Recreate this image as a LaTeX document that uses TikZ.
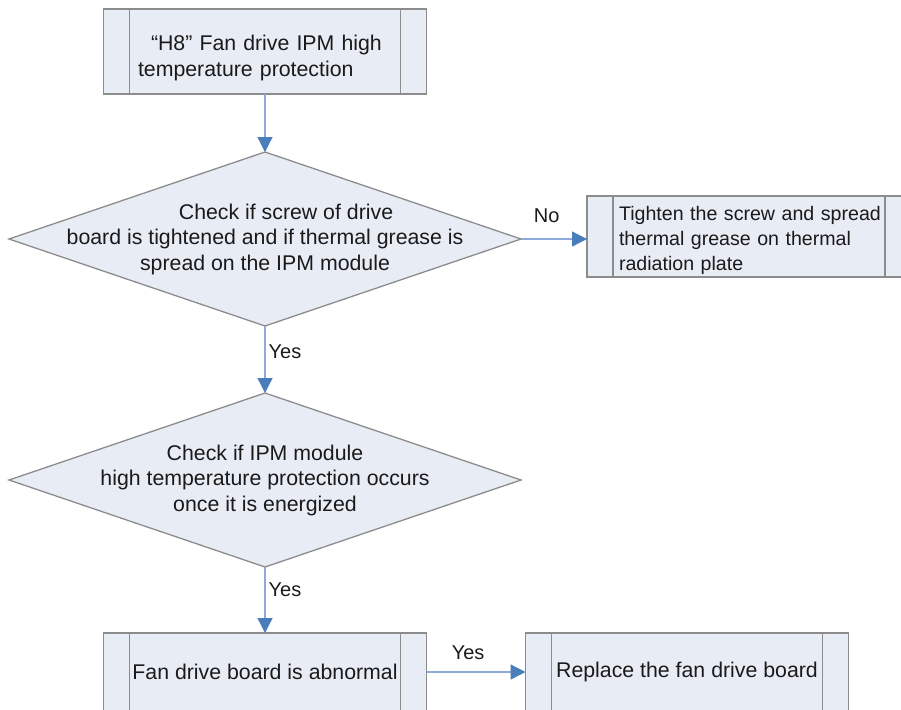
\documentclass[tikz,border=0pt]{standalone}
\usepackage{fontspec}
\setmainfont{Liberation Sans}
\usetikzlibrary{arrows.meta,positioning,shapes.geometric}
\definecolor{boxfill}{HTML}{E8ECF5}
\definecolor{boxgray}{HTML}{8C8C8C}
\definecolor{lineblue}{HTML}{8EAADB}
\definecolor{tipblue}{HTML}{4A7EBB}
\definecolor{txtgray}{HTML}{1A1A1A}

\begin{document}
\begin{tikzpicture}[font=\fontsize{21.3}{25.5}\selectfont, text=txtgray,
proc/.style={draw=boxgray, fill=boxfill, line width=1.3pt, inner sep=0pt, outer sep=0pt, minimum width=323pt,
  path picture={\draw[boxgray, line width=1.3pt]
    ([xshift=26pt]path picture bounding box.north west) -- ([xshift=26pt]path picture bounding box.south west)
    ([xshift=-26pt]path picture bounding box.north east) -- ([xshift=-26pt]path picture bounding box.south east);}},
decision/.style={diamond, draw=boxgray, fill=boxfill, line width=1.3pt, inner sep=0pt, outer sep=0pt, minimum width=512pt, minimum height=174pt},
arrow/.style={-{Triangle[length=15pt, width=15pt, color=tipblue]}, draw=lineblue, line width=1.3pt},
lbl/.style={font=\fontsize{20}{24}\selectfont, inner sep=3pt}]
\useasboundingbox (0,0) rectangle (901pt,-709pt);
\node[proc, minimum height=85pt, text width=254pt, align=left] (h8) at (265pt,-51.5pt)
  {\rule{0pt}{28pt}\hspace*{13pt}“H8” Fan drive IPM high\\temperature protection};
\node[decision, below=58pt of h8,
  label={[align=center]center:{\hspace*{42pt}Check if screw of drive\\board is tightened and if thermal grease is\\spread on the IPM module}}] (screw) {};
\node[proc, right=66pt of screw, yshift=2.5pt, minimum width=324pt, minimum height=81pt, text width=266pt, align=left,
  font=\fontsize{19.6}{25}\selectfont] (tighten)
  {\rule{0pt}{22pt}\hspace*{3pt}Tighten the screw and spread\\\hspace*{3pt}thermal grease on thermal\\\hspace*{3pt}radiation plate};
\node[decision, below=67pt of screw,
  label={[align=center]center:{Check if IPM module\\high temperature protection occurs\\once it is energized}}] (energized) {};
\node[proc, below=66pt of energized, minimum height=78pt] (abnormal) {Fan drive board is abnormal};
\node[proc, right=99pt of abnormal, minimum height=78pt] (replace) {Replace the fan drive board};
\draw[arrow] (h8) -- (screw);
\draw[arrow] (screw) -- node[lbl, above=13pt, pos=0.39]{No} (screw -| tighten.west);
\draw[arrow] (screw) -- node[lbl, right, pos=0.39]{Yes} (energized);
\draw[arrow] (energized) -- node[lbl, right, pos=0.35]{Yes} (abnormal);
\draw[arrow] (abnormal) -- node[lbl, above=9pt, pos=0.42]{Yes} (replace);
\end{tikzpicture}
\end{document}
